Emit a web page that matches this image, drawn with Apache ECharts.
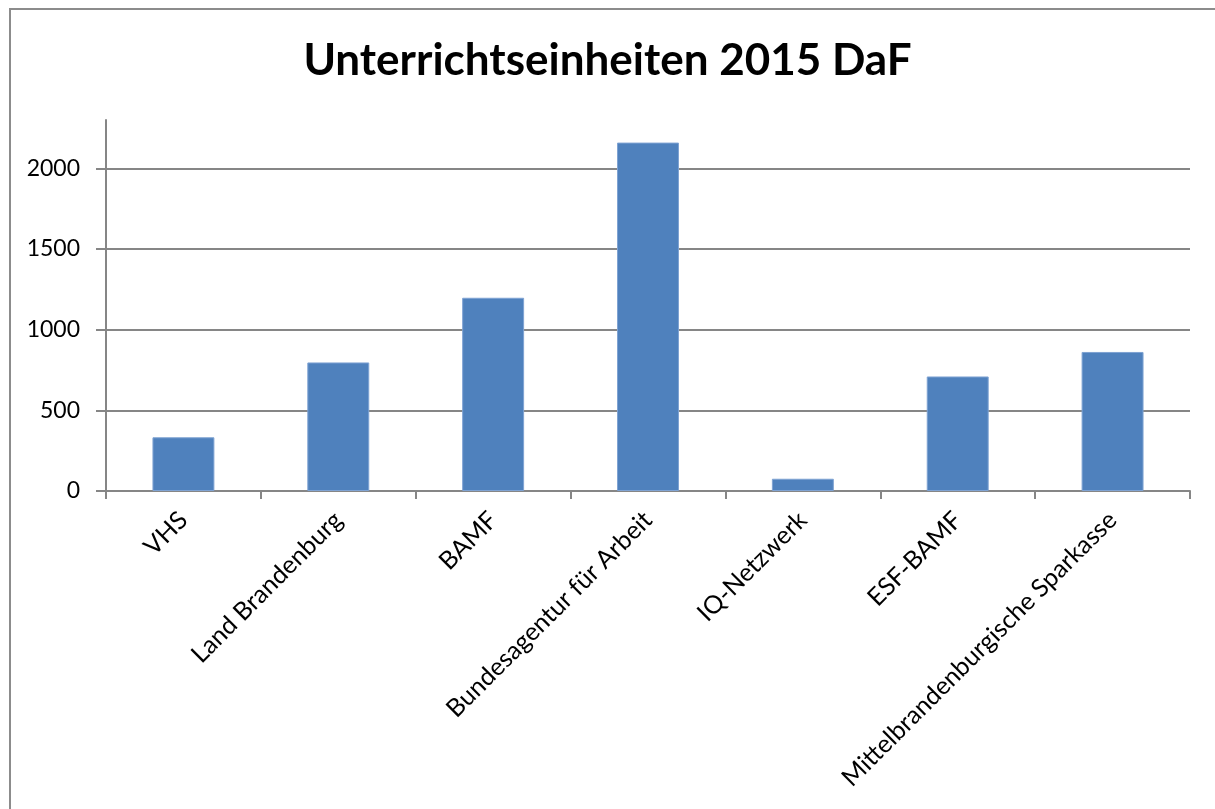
<!DOCTYPE html>
<html><head><meta charset="utf-8">
<script src="https://cdn.jsdelivr.net/npm/echarts@6/dist/echarts.min.js"></script>
<style>
html,body{margin:0;padding:0;background:#fff;width:1215px;height:809px;overflow:hidden;}
#frame{position:absolute;left:9px;top:8px;width:1300px;height:900px;border-left:2px solid #8c8c8c;border-top:2px solid #8c8c8c;}
#chart{position:absolute;left:0;top:0;width:1215px;height:809px;}
</style></head>
<body>
<div id="frame"></div>
<div id="chart"></div>
<script>
const titleText = 'Unterrichtseinheiten 2015 DaF';
const categories = ['VHS','Land Brandenburg','BAMF','Bundesagentur für Arbeit','IQ-Netzwerk','ESF-BAMF','Mittelbrandenburgische Sparkasse'];
const values = [333, 797, 1198, 2160, 76, 710, 862];
const yTicks = [0, 500, 1000, 1500, 2000];
const yMax = 2300;

const chart = echarts.init(document.getElementById('chart'), null, {renderer:'canvas'});
const font = "Lato, 'Open Sans', sans-serif";
chart.setOption({
  animation:false,
  backgroundColor:'transparent',
  title:{text:titleText,left:'center',top:34,textStyle:{fontFamily:font,fontSize:44,fontWeight:'bold',color:'#000'}},
  grid:{left:106,right:25,top:120,bottom:318,containLabel:false},
  xAxis:{type:'category',data:categories,boundaryGap:true,
    axisLine:{lineStyle:{color:'#868686',width:2}},
    axisTick:{show:true,length:8,alignWithLabel:false,lineStyle:{color:'#868686',width:2}},
    axisLabel:{rotate:45,interval:0,margin:25,fontFamily:font,fontSize:25,color:'#000'}},
  yAxis:{type:'value',min:0,max:yMax,interval:500,
    axisLine:{show:true,lineStyle:{color:'#868686',width:2}},
    axisTick:{show:true,length:10,customValues:yTicks,lineStyle:{color:'#868686',width:2}},
    axisLabel:{customValues:yTicks,margin:26,fontFamily:font,fontSize:23,color:'#000',formatter:function(v){return String(v);}},
    splitLine:{show:true,lineStyle:{color:'#868686',width:2}}},
  series:[{type:'bar',data:values,barWidth:'40%',
    itemStyle:{color:'#4F81BD',borderColor:'#7fa3d3',borderWidth:1}}]
});
</script>
</body></html>
